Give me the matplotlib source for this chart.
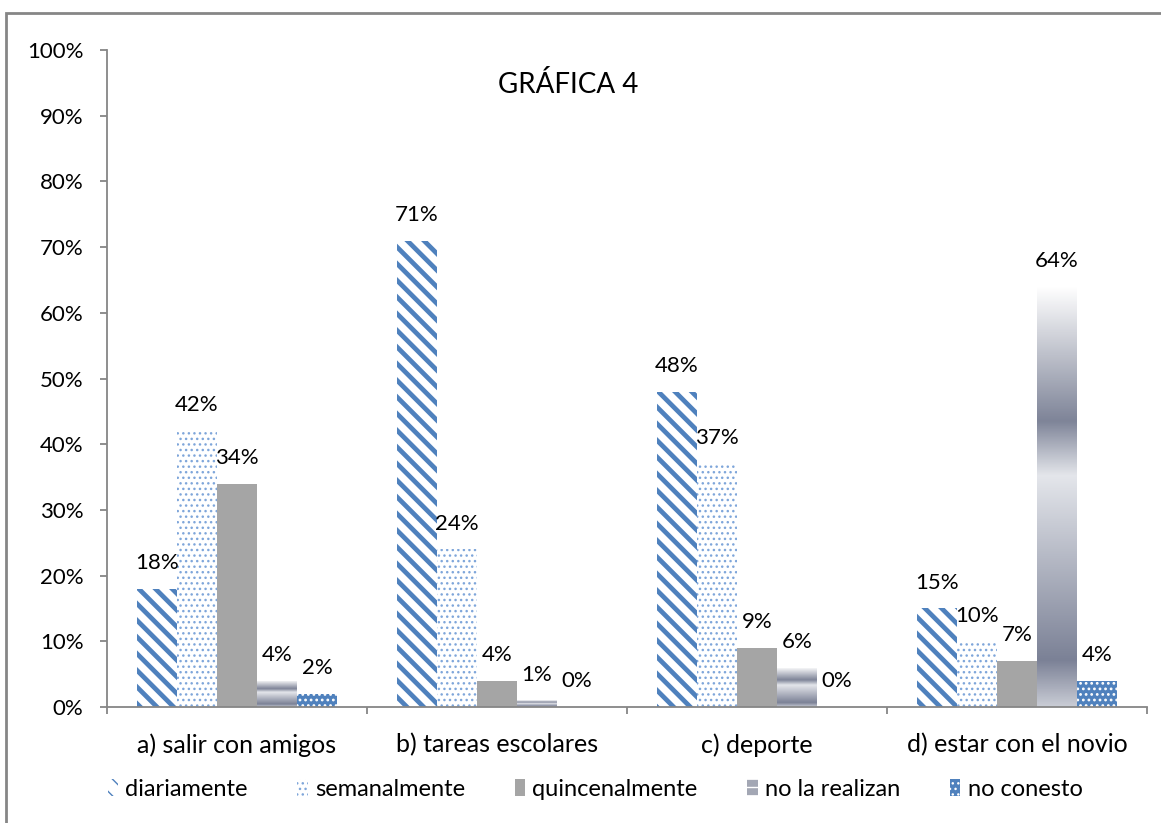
import numpy as np
import matplotlib
matplotlib.use("Agg")
import matplotlib.pyplot as plt
from matplotlib.patches import Patch, Rectangle
from matplotlib.colors import LinearSegmentedColormap
from matplotlib.ticker import FixedLocator, PercentFormatter

# data
categories = ["a) salir con amigos", "b) tareas escolares", "c) deporte", "d) estar con el novio"]
series_names = ["diariamente", "semanalmente", "quincenalmente", "no la realizan", "no conesto"]
diariamente = [18, 71, 48, 15]
semanalmente = [42, 24, 37, 10]
quincenalmente = [34, 4, 9, 7]
no_la_realizan = [4, 1, 6, 64]
no_conesto = [2, 0, 0, 4]
y_ticks = list(range(0, 101, 10))
title = "GRÁFICA 4"

plt.rcParams["font.family"] = ["Lato", "DejaVu Sans"]

BLUE = "#4F81BD"
LIGHT_BLUE = "#7FA6DA"
GRAY = "#A5A5A5"
AXIS_GRAY = "#868686"

# gradient used by the "no la realizan" bars (bottom -> top)
grad_cmap = LinearSegmentedColormap.from_list(
    "bands",
    [(0.0, "#c9ccd5"), (0.11, "#7b8196"), (0.55, "#e4e6eb"),
     (0.68, "#7e8498"), (1.0, "#ffffff")])

fig = plt.figure(figsize=(11.61, 8.23), dpi=100)
ax = fig.add_axes([107 / 1161, 1 - 707 / 823, 1040 / 1161, 657 / 823])

x = np.arange(len(categories))
n = len(series_names)
width = 200 / 260 / n
offsets = (np.arange(n) - (n - 1) / 2) * width

styles = [
    dict(facecolor="white", edgecolor=BLUE, hatch="\\\\", hlw=3.4),
    dict(facecolor="white", edgecolor=LIGHT_BLUE, hatch="...", hlw=1.0),
    dict(facecolor=GRAY, edgecolor=GRAY, hatch=None, hlw=1.0),
    dict(facecolor="none", edgecolor="none", hatch=None, hlw=1.0),
    dict(facecolor=BLUE, edgecolor="white", hatch="...", hlw=1.2),
]
values = [diariamente, semanalmente, quincenalmente, no_la_realizan, no_conesto]

for i, (vals, st) in enumerate(zip(values, styles)):
    with plt.rc_context({"hatch.linewidth": st["hlw"]}):
        bars = ax.bar(x + offsets[i], vals, width, facecolor=st["facecolor"],
                      edgecolor=st["edgecolor"], hatch=st["hatch"], linewidth=0,
                      zorder=2)
    if i == 3:
        # fill each bar with the banded gradient, clipped to the bar
        grad = np.linspace(0, 1, 256).reshape(-1, 1)
        for b in bars:
            if b.get_height() <= 0:
                continue
            im = ax.imshow(grad, cmap=grad_cmap, origin="lower", aspect="auto",
                           extent=[b.get_x(), b.get_x() + b.get_width(), 0, b.get_height()],
                           zorder=2)
            im.set_clip_path(b)
    for b, v in zip(bars, vals):
        ax.annotate(f"{v}%", (b.get_x() + b.get_width() / 2, b.get_height()),
                    xytext=(0, 18.5), textcoords="offset points",
                    ha="center", va="center", fontsize=16, zorder=3)

ax.set_xlim(-0.5, len(categories) - 0.5)
ax.set_ylim(0, 100)
ax.set_yticks(y_ticks)
ax.yaxis.set_major_formatter(PercentFormatter(decimals=0))
ax.set_xticks(x)
ax.set_xticklabels(categories)
ax.xaxis.set_minor_locator(FixedLocator(np.arange(len(categories) + 1) - 0.5))
ax.tick_params(axis="x", which="major", length=0, pad=19, labelsize=18)
ax.tick_params(axis="x", which="minor", length=5, color=AXIS_GRAY, width=1.3)
ax.tick_params(axis="y", length=5, color=AXIS_GRAY, width=1.3, labelsize=16, pad=12)
for s in ["top", "right"]:
    ax.spines[s].set_visible(False)
for s in ["left", "bottom"]:
    ax.spines[s].set_color(AXIS_GRAY)
    ax.spines[s].set_linewidth(1.3)

ax.text(0.443, 0.947, title, transform=ax.transAxes, ha="center", va="center",
        fontsize=20)

handles = [
    Patch(facecolor="white", edgecolor=BLUE, hatch="\\\\", linewidth=0),
    Patch(facecolor="white", edgecolor=LIGHT_BLUE, hatch="...", linewidth=0),
    Patch(facecolor=GRAY, edgecolor=GRAY, linewidth=0),
    Patch(facecolor="#a3a7b4", edgecolor="white", hatch="--", linewidth=0),
    Patch(facecolor=BLUE, edgecolor="white", hatch="...", linewidth=0),
]
fig.legend(handles, series_names, loc="center", bbox_to_anchor=(595 / 1161, 1 - 789 / 823),
           ncol=5, frameon=False, fontsize=17, handlelength=0.45, handleheight=0.75,
           handletextpad=0.3, columnspacing=2.1)

# outer chart frame (only top and left edges are inside the image)
fig.patches.append(Rectangle((6 / 1161, -0.2), 1.2, 0.2 + 1 - 13 / 823,
                             transform=fig.transFigure, fill=False,
                             edgecolor=AXIS_GRAY, linewidth=2, clip_on=False))

fig.savefig("out.png", dpi=100)
